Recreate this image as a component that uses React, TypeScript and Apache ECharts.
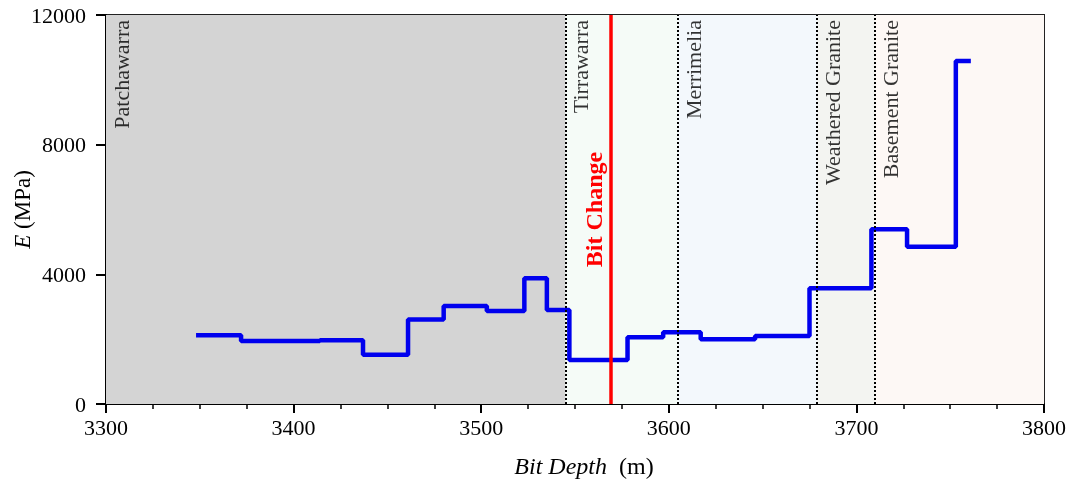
import React, { useEffect, useRef } from "react";
import * as echarts from "echarts";

const depthStarts = [3348, 3372, 3414, 3437, 3461, 3480, 3503, 3523, 3535, 3547, 3578, 3597, 3617, 3646, 3675, 3708, 3727, 3753];
const depthEnd = 3761;
const modulusValues = [2120, 1940, 1970, 1520, 2610, 3020, 2870, 3880, 2900, 1360, 2060, 2210, 2000, 2100, 3570, 5390, 4850, 10580];

const formationNames = ["Patchawarra", "Tirrawarra", "Merrimelia", "Weathered Granite", "Basement Granite"];
const formationTops = [3300, 3545, 3605, 3679, 3710];
const formationBases = [3545, 3605, 3679, 3710, 3800];
const formationColors = ["#d4d4d4", "#f5fbf7", "#f3f8fc", "#f3f4f1", "#fdf8f5"];

const bitChangeDepth = 3569;
const xTicks = [3300, 3800, 100];
const yTicks = [0, 12000, 4000];

const FONT = "'Liberation Serif', 'Times New Roman', serif";

export default function App() {
  const ref = useRef<HTMLDivElement>(null);
  useEffect(() => {
    if (!ref.current) return;
    const chart = echarts.init(ref.current, null, { renderer: "svg" });
    const stepData: number[][] = depthStarts.map((d, i) => [d, modulusValues[i]]);
    stepData.push([depthEnd, modulusValues[modulusValues.length - 1]]);

    chart.setOption({
      animation: false,
      grid: {
        left: 106,
        right: 28,
        top: 15,
        bottom: 81,
        containLabel: false,
        outerBoundsMode: "none",
        show: true,
        borderColor: "#222",
        borderWidth: 2,
        backgroundColor: "transparent",
      },
      xAxis: {
        type: "value",
        min: xTicks[0],
        max: xTicks[1],
        interval: xTicks[2],
        name: "{i|Bit Depth}  (m)",
        nameLocation: "middle",
        nameGap: 50,
        nameMoveOverlap: false,
        nameTextStyle: {
          fontFamily: FONT,
          fontSize: 24,
          color: "#000",
          padding: [0, 0, 0, 18],
          rich: { i: { fontStyle: "italic", fontFamily: FONT, fontSize: 24, color: "#000" } },
        },
        axisLine: { show: true, lineStyle: { color: "#000", width: 2 } },
        axisTick: { show: true, inside: false, length: 9, lineStyle: { color: "#000", width: 2 } },
        minorTick: { show: true, splitNumber: 4, length: 5, lineStyle: { color: "#000", width: 1.5 } },
        splitLine: { show: false },
        axisLabel: { fontFamily: FONT, fontSize: 22, color: "#000", margin: 12, formatter: (v: number) => String(v) },
      },
      yAxis: {
        type: "value",
        min: yTicks[0],
        max: yTicks[1],
        interval: yTicks[2],
        name: "{i|E} (MPa)",
        nameLocation: "middle",
        nameRotate: 90,
        nameGap: 72,
        nameMoveOverlap: false,
        nameTextStyle: {
          fontFamily: FONT,
          fontSize: 23,
          color: "#000",
          rich: { i: { fontStyle: "italic", fontFamily: FONT, fontSize: 23, color: "#000" } },
        },
        axisLine: { show: true, lineStyle: { color: "#000", width: 2 } },
        axisTick: { show: true, inside: false, length: 10, lineStyle: { color: "#000", width: 2 } },
        splitLine: { show: false },
        axisLabel: { fontFamily: FONT, fontSize: 22, color: "#000", margin: 20, formatter: (v: number) => String(v) },
      },
      series: [
        {
          type: "line",
          data: [],
          z: 1,
          silent: true,
          markArea: {
            silent: true,
            itemStyle: { opacity: 1 },
            data: formationNames.map((n, i) => [
              { xAxis: formationTops[i], yAxis: yTicks[0], itemStyle: { color: formationColors[i] } },
              { xAxis: formationBases[i], yAxis: yTicks[1] },
            ]),
          },
          markLine: {
            silent: true,
            symbol: "none",
            label: { show: false },
            lineStyle: { color: "#000", type: "dotted", width: 2 },
            data: formationTops.slice(1).map((t) => ({ xAxis: t })),
          },
        },
        {
          type: "line",
          step: "end",
          data: stepData,
          z: 3,
          showSymbol: false,
          lineStyle: { color: "#0000ee", width: 4.5 },
          itemStyle: { color: "#0000ee" },
        },
        {
          type: "scatter",
          z: 4,
          symbolSize: 0,
          data: formationNames.map((n, i) => ({ value: [formationTops[i], yTicks[1]], name: n })),
          label: {
            show: true,
            formatter: (p: any) => p.name,
            rotate: 90,
            align: "right",
            verticalAlign: "top",
            offset: [-5, 4],
            fontFamily: FONT,
            fontSize: 22,
            color: "#000",
          },
        },
        {
          type: "line",
          data: [],
          z: 5,
          markLine: {
            silent: true,
            symbol: "none",
            lineStyle: { color: "#ff0000", type: "solid", width: 3.5 },
            label: {
              show: true,
              formatter: "Bit Change",
              position: "insideMiddleTop",
              distance: 5,
              fontFamily: FONT,
              fontSize: 24,
              fontWeight: "bold",
              color: "#ff0000",
            },
            data: [{ xAxis: bitChangeDepth }],
          },
        },
      ],
    });
    return () => chart.dispose();
  }, []);
  return <div ref={ref} style={{ position: "fixed", left: 0, top: 0, width: 1072, height: 485 }} />;
}
